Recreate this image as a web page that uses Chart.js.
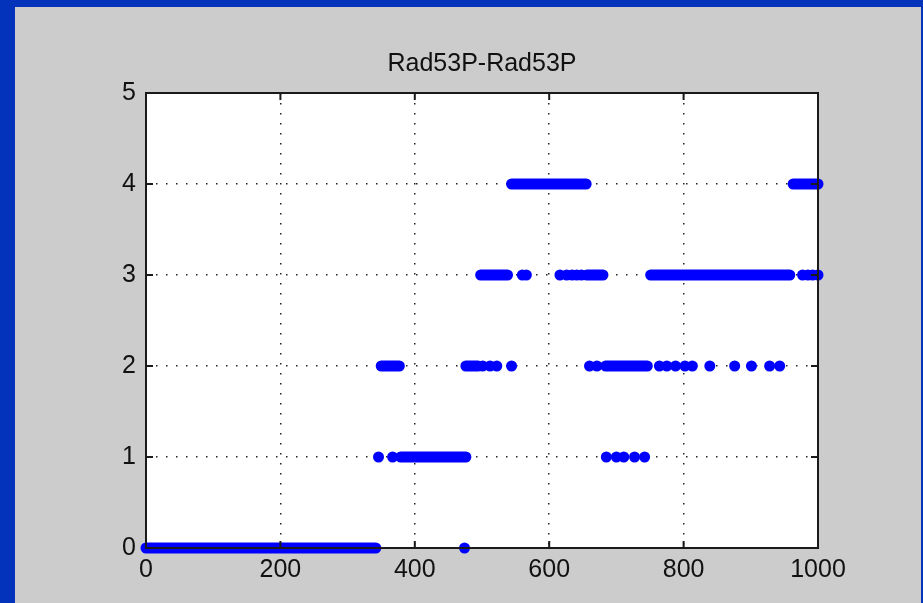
<!DOCTYPE html>
<html>
<head>
<meta charset="utf-8">
<script src="https://cdn.jsdelivr.net/npm/chart.js@4"></script>
<style>
  html, body { margin: 0; padding: 0; background: #0433BB; }
  #wrap { width: 923px; height: 603px; position: relative; }
  canvas { display: block; }
</style>
</head>
<body>
<div id="wrap"><canvas id="c" width="923" height="603"></canvas></div>
<script>
// ---- data ----
const chartTitle = "Rad53P-Rad53P";
const xTicks = [0, 200, 400, 600, 800, 1000];
const yTicks = [0, 1, 2, 3, 4, 5];
const levels = [0, 1, 2, 3, 4];
// dense runs of consecutive samples [firstX, lastX] at each level
const runs0 = [[0, 342]];
const runs1 = [[379, 476]];
const runs2 = [[350, 377], [476, 494], [684, 746]];
const runs3 = [[498, 538], [656, 680], [751, 958]];
const runs4 = [[544, 655], [963, 1000]];
// isolated samples (x) at each level
const single0 = [474];
const single1 = [346, 367, 685, 700, 711, 727, 742];
const single2 = [501, 512, 522, 544, 660, 671, 764, 775, 788, 802, 813, 839, 876, 901, 928, 943];
const single3 = [560, 566, 616, 626, 634, 641, 648, 977, 985, 992, 1000];
const single4 = [];

const allRuns = [runs0, runs1, runs2, runs3, runs4];
const allSingles = [single0, single1, single2, single3, single4];

const BLUE = '#0000FF';
const FONT = '"Liberation Sans", Arial, sans-serif';
const datasets = [];
levels.forEach((lv, i) => {
  const runData = [];
  allRuns[i].forEach(([a, b]) => {
    runData.push({x: a, y: lv}, {x: b, y: lv}, {x: b, y: null});
  });
  datasets.push({
    data: runData, borderColor: BLUE, borderWidth: 11, borderCapStyle: 'round',
    pointRadius: 0, spanGaps: false, clip: false, tension: 0
  });
  datasets.push({
    data: allSingles[i].map(x => ({x: x, y: lv})), showLine: false,
    pointRadius: 5.5, pointHoverRadius: 5.5, pointBackgroundColor: BLUE, pointBorderWidth: 0,
    clip: false
  });
});

const frame = {
  id: 'frame',
  beforeDraw(chart) {
    const ctx = chart.ctx, a = chart.chartArea;
    ctx.save();
    ctx.fillStyle = '#0433BB';
    ctx.fillRect(0, 0, chart.width, chart.height);
    ctx.fillStyle = '#CCCCCC';
    ctx.fillRect(15, 7, 906, chart.height - 7);
    ctx.fillStyle = '#FFFFFF';
    ctx.fillRect(a.left, a.top, a.right - a.left, a.bottom - a.top);
    // title centred over the axes box
    ctx.fillStyle = '#111';
    ctx.font = '25px ' + FONT;
    ctx.textAlign = 'center';
    ctx.textBaseline = 'middle';
    ctx.fillText(chartTitle, (a.left + a.right) / 2, 64);
    ctx.restore();
  },
  afterDatasetsDraw(chart) {
    const ctx = chart.ctx, a = chart.chartArea;
    const xs = chart.scales.x, ys = chart.scales.y;
    ctx.save();
    ctx.strokeStyle = '#1a1a1a';
    ctx.lineWidth = 2;
    ctx.strokeRect(a.left, a.top, a.right - a.left, a.bottom - a.top);
    const L = 7;
    ctx.beginPath();
    xTicks.forEach(v => {
      const px = xs.getPixelForValue(v);
      ctx.moveTo(px, a.bottom); ctx.lineTo(px, a.bottom - L);
      ctx.moveTo(px, a.top); ctx.lineTo(px, a.top + L);
    });
    yTicks.forEach(v => {
      const py = ys.getPixelForValue(v);
      ctx.moveTo(a.left, py); ctx.lineTo(a.left + L, py);
      ctx.moveTo(a.right, py); ctx.lineTo(a.right - L, py);
    });
    ctx.stroke();
    ctx.restore();
  }
};

const tickFont = { family: FONT, size: 25 };

new Chart(document.getElementById('c'), {
  type: 'line',
  data: { datasets },
  plugins: [frame],
  options: {
    responsive: false,
    animation: false,
    events: [],
    layout: { padding: { left: 0, right: 105, top: 93, bottom: 0 } },
    plugins: {
      legend: { display: false },
      tooltip: { enabled: false },
      title: { display: false }
    },
    scales: {
      x: {
        type: 'linear', min: 0, max: 1000,
        afterBuildTicks: s => { s.ticks = xTicks.map(v => ({value: v})); },
        afterFit: s => { s.height = 55; },
        grid: { lineWidth: 1.5, drawTicks: false,
                color: ctx => (ctx.tick && (ctx.tick.value === 0 || ctx.tick.value === 1000)) ? 'rgba(0,0,0,0)' : '#222' },
        border: { display: false, dash: [1.5, 8.5] },
        ticks: { color: '#111', font: tickFont, padding: 7, maxRotation: 0, callback: v => String(v) }
      },
      y: {
        type: 'linear', min: 0, max: 5,
        afterBuildTicks: s => { s.ticks = yTicks.map(v => ({value: v})); },
        afterFit: s => { s.width = 146; },
        grid: { lineWidth: 1.5, drawTicks: false,
                color: ctx => (ctx.tick && (ctx.tick.value === 0 || ctx.tick.value === 5)) ? 'rgba(0,0,0,0)' : '#222' },
        border: { display: false, dash: [1.5, 8.5] },
        ticks: { color: '#111', font: tickFont, padding: 10, callback: v => String(v) }
      }
    }
  }
});
</script>
</body>
</html>
